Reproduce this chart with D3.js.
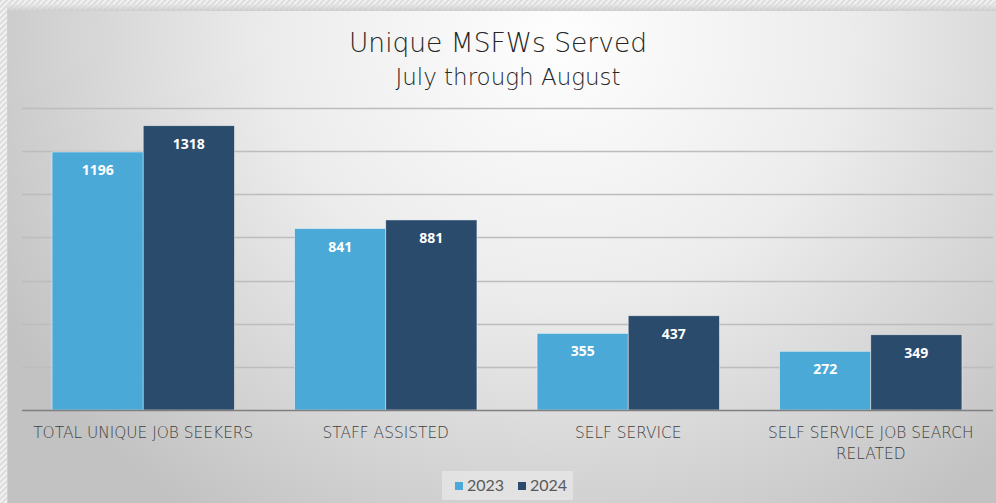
<!DOCTYPE html>
<html><head><meta charset="utf-8">
<script src="https://cdn.jsdelivr.net/npm/d3@7"></script>
<style>html,body{margin:0;padding:0;background:#fff;}svg{display:block;}</style>
</head><body>
<svg id="c" width="996" height="503"></svg>
<script>
const categories = [["TOTAL UNIQUE JOB SEEKERS"], ["STAFF ASSISTED"], ["SELF SERVICE"], ["SELF SERVICE JOB SEARCH", "RELATED"]];
const seriesNames = ["2023", "2024"];
const values2023 = [1196, 841, 355, 272];
const values2024 = [1318, 881, 437, 349];
const yTicks = [0, 200, 400, 600, 800, 1000, 1200, 1400];
const titleText = "Unique MSFWs Served";
const subtitleText = "July through August";

const colors = ["#4aa9d6", "#2a4b6b"];
const W = 996, H = 503;
const svg = d3.select("#c");
const defs = svg.append("defs");

const pat = defs.append("pattern").attr("id","hatch").attr("width",4).attr("height",4)
  .attr("patternUnits","userSpaceOnUse").attr("patternTransform","rotate(45)");
pat.append("rect").attr("width",4).attr("height",4).attr("fill","#f2f2f2");
pat.append("rect").attr("width",2).attr("height",4).attr("fill","#dcdcdc");

const rg = defs.append("radialGradient").attr("id","bg")
  .attr("gradientUnits","userSpaceOnUse").attr("cx",560).attr("cy",40).attr("r",640)
  .attr("gradientTransform","translate(560,40) scale(1,0.9) translate(-560,-40)");
rg.append("stop").attr("offset","0").attr("stop-color","#fefefe");
rg.append("stop").attr("offset","0.45").attr("stop-color","#ececec");
rg.append("stop").attr("offset","1").attr("stop-color","#c2c2c2");

const lg = defs.append("linearGradient").attr("id","topShadow").attr("x1",0).attr("y1",0).attr("x2",0).attr("y2",1);
lg.append("stop").attr("offset","0").attr("stop-color","#e6e6e6");
lg.append("stop").attr("offset","1").attr("stop-color","#c9c9c9");

svg.append("rect").attr("width",W).attr("height",H).attr("fill","url(#hatch)");
svg.append("rect").attr("x",7).attr("y",4).attr("width",W-7).attr("height",6).attr("fill","url(#topShadow)").attr("opacity",0.7);
svg.append("rect").attr("x",7).attr("y",10).attr("width",W-7).attr("height",H-10).attr("fill","url(#bg)");
svg.append("line").attr("x1",7).attr("x2",W).attr("y1",10.5).attr("y2",10.5).attr("stroke","#d0d0d0");
svg.append("line").attr("x1",7.5).attr("x2",7.5).attr("y1",10).attr("y2",H).attr("stroke","#d0d0d0");

const plot = {left: 22, right: 992, top: 108, bottom: 410};
const x0 = d3.scaleBand().domain(d3.range(categories.length)).range([plot.left, plot.right]).paddingInner(0.248).paddingOuter(0.124);
const x1 = d3.scaleBand().domain(seriesNames).range([0, x0.bandwidth()]).padding(0);
const y = d3.scaleLinear().domain([0, 1400]).range([plot.bottom, plot.top]);

svg.append("g").selectAll("line").data(yTicks.slice(1)).join("line")
  .attr("x1", plot.left).attr("x2", plot.right+1)
  .attr("y1", d => Math.round(y(d))+0.5).attr("y2", d => Math.round(y(d))+0.5)
  .attr("stroke", "#bdbdbd").attr("stroke-width", 1.3);

const data = categories.map((c,i) => ({i, vals: [values2023[i], values2024[i]]}));
const g = svg.append("g").selectAll("g").data(data).join("g").attr("transform", d => `translate(${x0(d.i)},0)`);
g.selectAll("rect").data(d => d.vals.map((v,k)=>({v,k}))).join("rect")
  .attr("x", d => x1(seriesNames[d.k])).attr("width", x1.bandwidth())
  .attr("y", d => y(d.v)).attr("height", d => y(0)-y(d.v))
  .attr("fill", d => colors[d.k]).attr("stroke","rgba(255,255,255,0.55)").attr("stroke-width",0.8);
g.selectAll("text").data(d => d.vals.map((v,k)=>({v,k}))).join("text")
  .attr("x", d => x1(seriesNames[d.k]) + x1.bandwidth()/2).attr("y", d => y(d.v)+23)
  .attr("text-anchor","middle").attr("fill","#fff")
  .attr("font-family","'Open Sans', sans-serif").attr("font-weight",700).attr("font-size",14)
  .text(d => d.v);

svg.append("line").attr("x1", plot.left).attr("x2", plot.right+1).attr("y1", y(0)+0.5).attr("y2", y(0)+0.5)
  .attr("stroke","#7f7f7f").attr("stroke-width",1.5);

const cl = svg.append("g").selectAll("text").data(categories).join("text")
  .attr("x",(d,i)=>x0(i)+x0.bandwidth()/2).attr("y",438)
  .attr("text-anchor","middle").attr("fill","#404040")
  .attr("font-family","'DejaVu Sans', sans-serif").attr("font-weight",200).attr("font-size",15.4);
cl.selectAll("tspan").data(d=>d).join("tspan")
  .attr("x", function(){return this.parentNode.getAttribute("x");})
  .attr("dy",(d,j)=>j===0?0:21).text(d=>d);

svg.append("text").attr("x",498).attr("y",52).attr("text-anchor","middle")
  .attr("font-family","'DejaVu Sans', sans-serif").attr("font-weight",200).attr("font-size",26.5).attr("fill","#262626").text(titleText);
svg.append("text").attr("x",508).attr("y",85).attr("text-anchor","middle")
  .attr("font-family","'DejaVu Sans', sans-serif").attr("font-weight",200).attr("font-size",23).attr("fill","#262626").text(subtitleText);

svg.append("rect").attr("x",442).attr("y",471).attr("width",131).attr("height",29).attr("fill","#e6e6e6").attr("opacity",0.8);
const lx = [455, 518];
const leg = svg.append("g").selectAll("g").data(seriesNames).join("g");
leg.append("rect").attr("x",(d,i)=>lx[i]).attr("y",482).attr("width",8).attr("height",8).attr("fill",(d,i)=>colors[i]);
leg.append("text").attr("x",(d,i)=>lx[i]+12).attr("y",491).attr("fill","#595959")
  .attr("font-family","Lato, sans-serif").attr("font-size",16).text(d=>d);
</script>
</body></html>
